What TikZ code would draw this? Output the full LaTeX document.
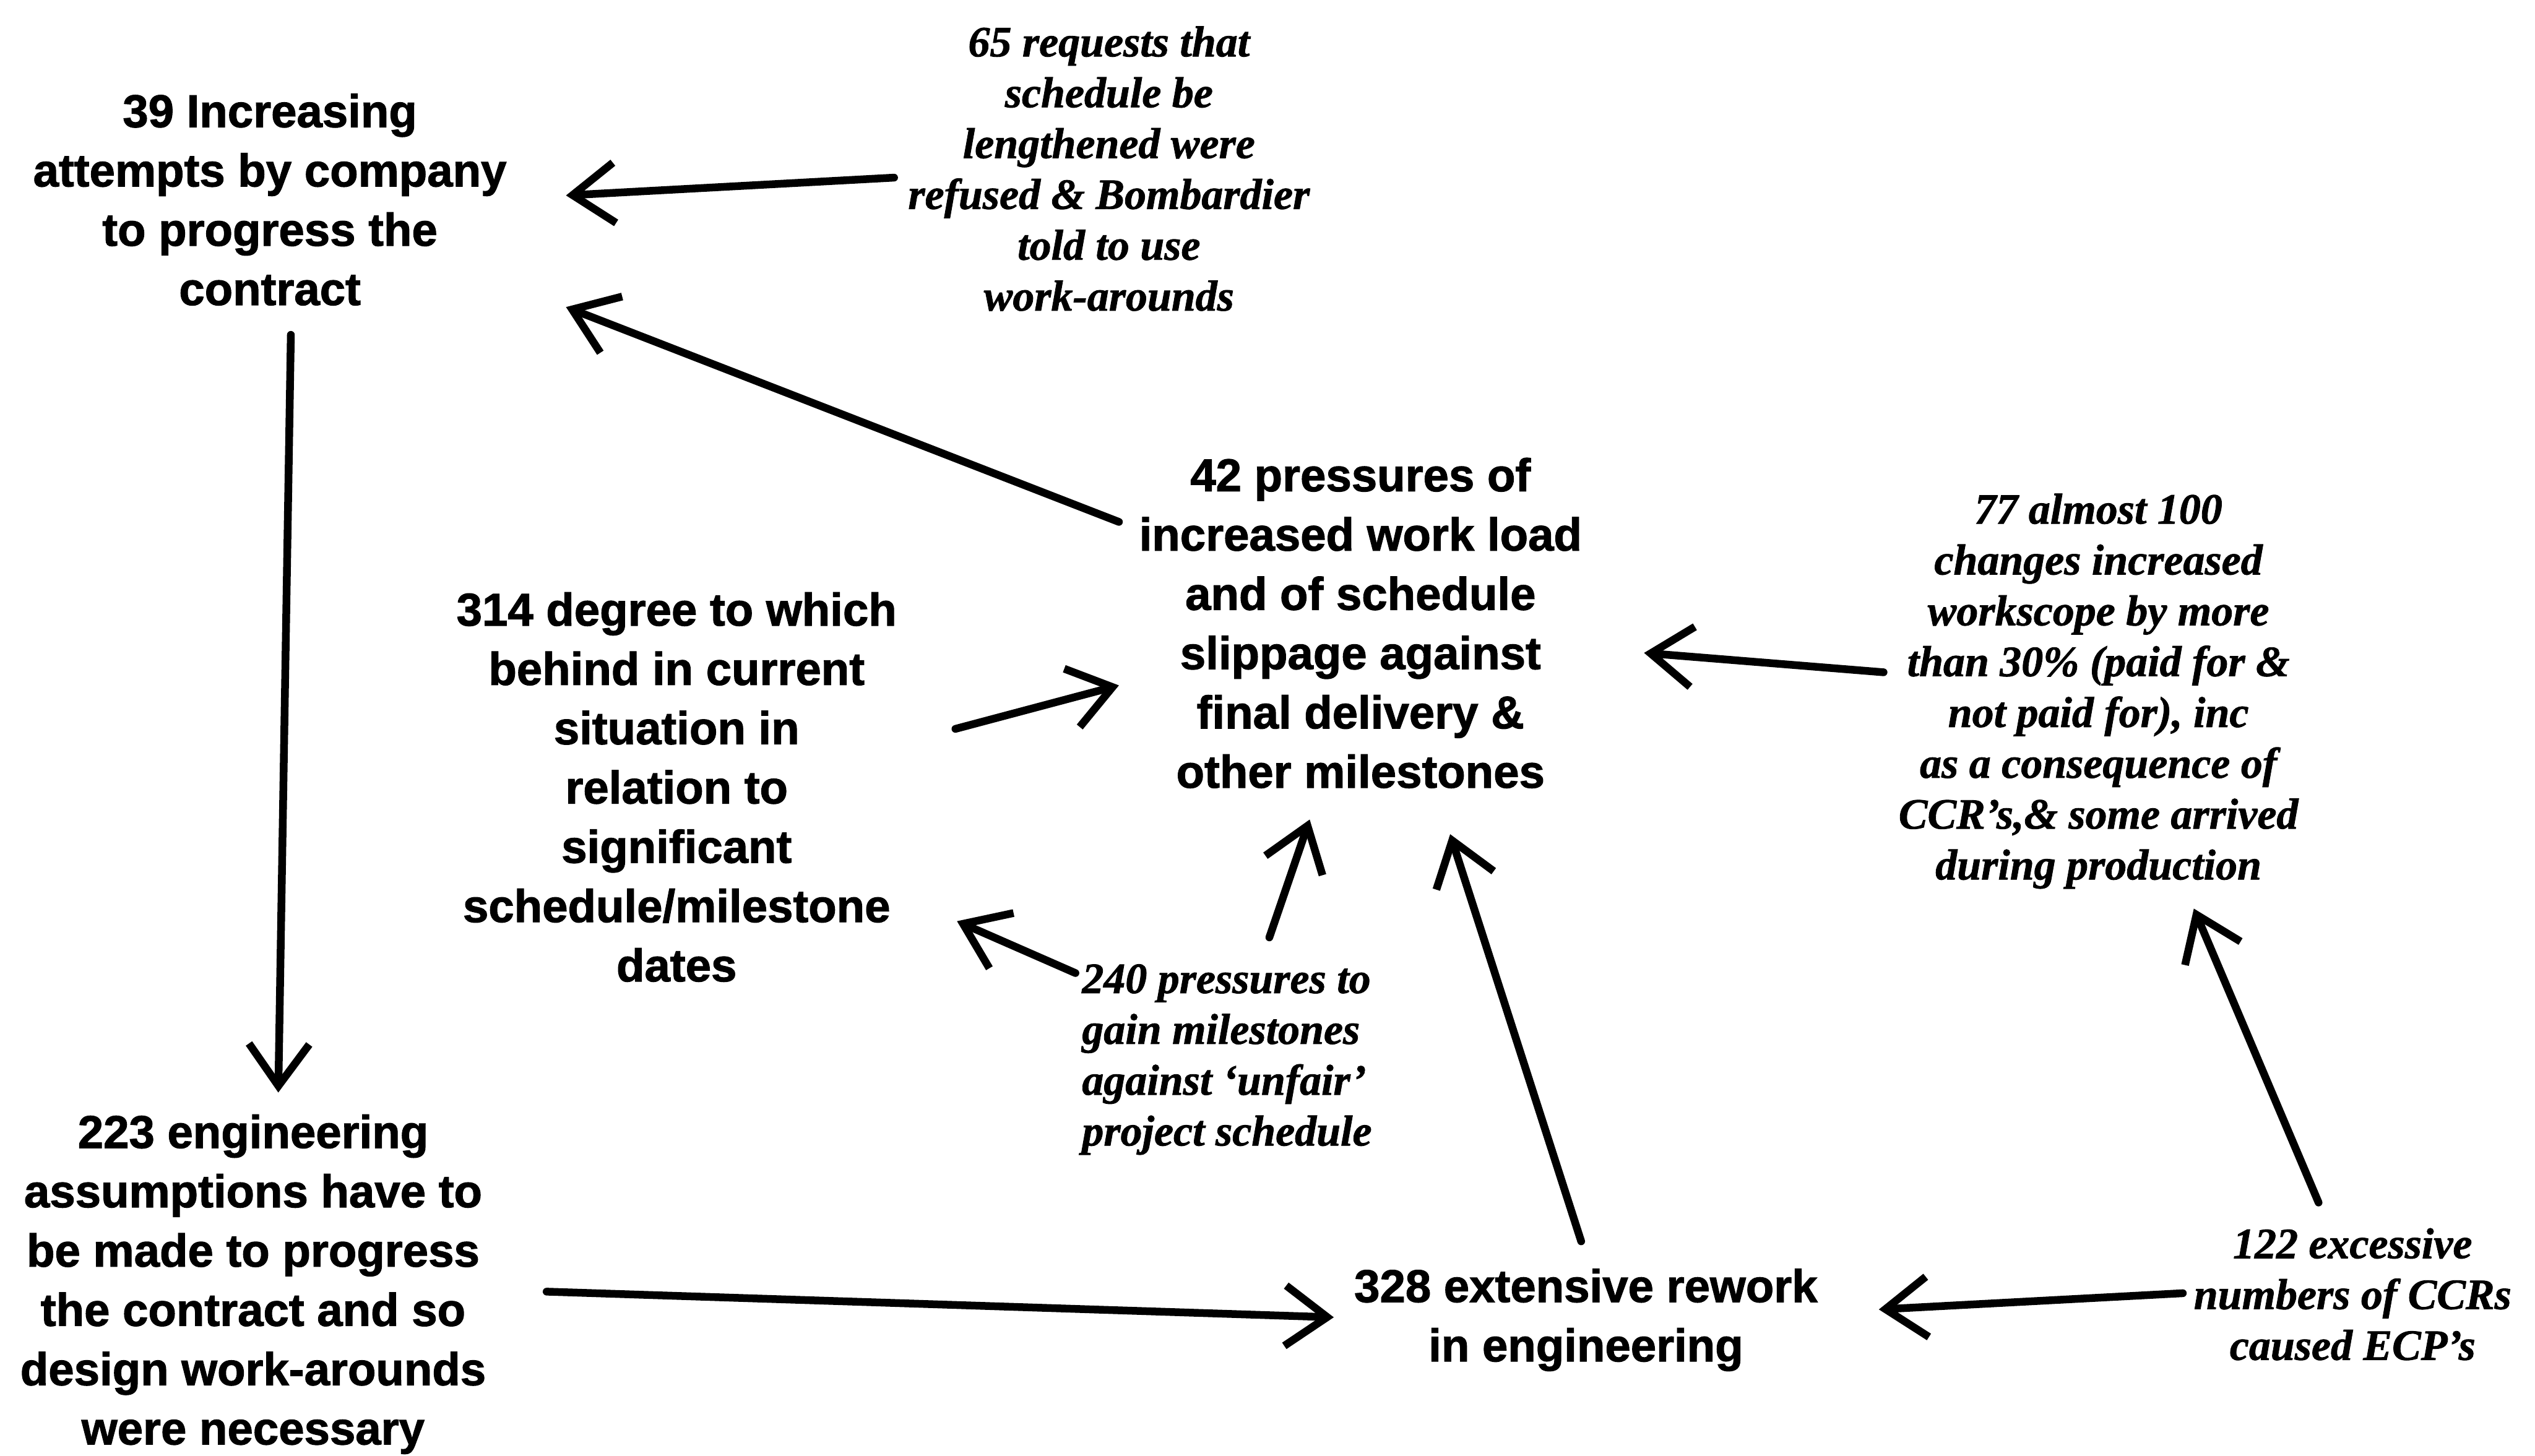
\documentclass[tikz,border=0pt]{standalone}
\usepackage{fontspec}
\setmainfont{Liberation Sans}[BoldFeatures={FakeBold=1.5}]
\newfontfamily\notefont{Liberation Serif}[BoldItalicFeatures={FakeBold=1.2}]
\usetikzlibrary{arrows.meta,calc}
\begin{document}
\begin{tikzpicture}[
  factor/.style={font=\bfseries\fontsize{25}{32.2}\selectfont, align=center, inner sep=0pt},
  note/.style={font=\notefont\bfseries\itshape\fontsize{23.5}{27.6}\selectfont, align=center, inner sep=0pt},
  causal/.style={line width=4.2pt, line cap=round, -{Straight Barb[length=0.8cm,width=1.15cm]}},
]
\useasboundingbox[fill=white] (0,0) rectangle (48.37,-27.78);

% main factors
\node[factor] (n39) at (5.15,-3.81) {39 Increasing\\attempts by company\\to progress the\\contract};
\node[factor] (n42) at (25.96,-11.89) {42 pressures of\\increased work load\\and of schedule\\slippage against\\final delivery \&\\other milestones};
\node[factor] (n314) at (12.91,-15.02) {314 degree to which\\behind in current\\situation in\\relation to\\significant\\schedule/milestone\\dates};
\node[factor] (n223) at (4.83,-24.51) {223 engineering\\assumptions have to\\be made to progress\\the contract and so\\design work-arounds\\were necessary};
\node[factor] (n328) at (30.26,-25.19) {328 extensive rework\\in engineering};

% supporting evidence
\node[note] (l65) at (21.16,-3.22) {65 requests that\\schedule be\\lengthened were\\refused \& Bombardier\\told to use\\work-arounds};
\node[note] (l77) at (40.04,-13.19) {77 almost 100\\changes increased\\workscope by more\\than 30\% (paid for \&\\not paid for), inc\\as a consequence of\\CCR’s,\& some arrived\\during production};
\node[note, align=left, anchor=west] (l240) at (20.64,-20.22) {240 pressures to\\gain milestones\\against ‘unfair’\\project schedule};
\node[note] (l122) at (44.89,-24.70) {122 excessive\\numbers of CCRs\\caused ECP’s};

% causal links
\draw[causal] ($(l65)+(-4.10,-0.17)$) -- ($(n39)+(5.65,0.08)$);
\draw[causal] ($(n42)+(-4.61,1.93)$) -- ($(n39)+(5.65,-2.05)$);
\draw[causal] ($(n39)+(0.40,-2.58)$) -- ($(n223)+(0.48,3.66)$);
\draw[causal] ($(n314)+(5.32,1.11)$) -- ($(n42)+(-4.61,-1.19)$);
\draw[causal] ($(l240.west)+(-0.12,1.65)$) -- ($(n314)+(5.35,-2.56)$);
\draw[causal] ($(l240.west)+(3.58,2.33)$) -- ($(n42)+(-0.97,-3.75)$);
\draw[causal] ($(n328)+(-0.09,1.50)$) -- ($(n42)+(1.71,-4.03)$);
\draw[causal] ($(l77)+(-4.10,0.36)$) -- ($(n42)+(5.41,-0.57)$);
\draw[causal] ($(l122)+(-0.65,1.75)$) -- ($(l77)+(1.82,-4.15)$);
\draw[causal] ($(l122)+(-3.24,0.02)$) -- ($(n328)+(5.59,0.20)$);
\draw[causal] ($(n223)+(5.60,-0.14)$) -- ($(n328)+(-4.81,0.05)$);
\end{tikzpicture}
\end{document}
